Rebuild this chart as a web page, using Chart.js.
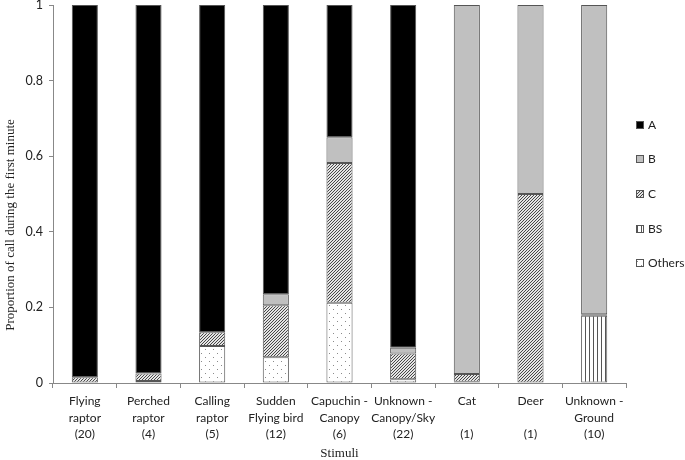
<!DOCTYPE html>
<html>
<head>
<meta charset="utf-8">
<script src="https://cdn.jsdelivr.net/npm/chart.js@4"></script>
<style>
  html, body { margin: 0; padding: 0; background: #fff; }
  #wrap { width: 685px; height: 460px; position: relative; }
</style>
</head>
<body>
<div id="wrap"><canvas id="chart"></canvas></div>
<script>
// ── data --------------------------------------------------------------------
const stimuli = [
  ['Flying', 'raptor', '(20)'],
  ['Perched', 'raptor', '(4)'],
  ['Calling', 'raptor', '(5)'],
  ['Sudden', 'Flying bird', '(12)'],
  ['Capuchin -', 'Canopy', '(6)'],
  ['Unknown -', 'Canopy/Sky', '(22)'],
  ['Cat', '', '(1)'],
  ['Deer', '', '(1)'],
  ['Unknown -', 'Ground', '(10)']
];

// stacked bottom -> top: Others, BS, C, B, A
const othersVals = [null, 0.005, 0.098, 0.068, 0.212, 0.010, 0.003, null, null];
const bsVals     = [null, null, null, null, null, null, null, null, 0.178];
const cVals      = [0.015, 0.020, 0.036, 0.138, 0.370, 0.068, 0.021, 0.500, 0.004];
const bVals      = [null, null, null, 0.029, 0.068, 0.015, 0.976, 0.500, 0.818];
const aVals      = [0.985, 0.975, 0.866, 0.765, 0.350, 0.907, null, null, null];

const yTicks = [0, 0.2, 0.4, 0.6, 0.8, 1];

// ── fill patterns -----------------------------------------------------------
function makePattern(size, bg, paint) {
  const c = document.createElement('canvas');
  c.width = size; c.height = size;
  const g = c.getContext('2d');
  g.fillStyle = bg;
  g.fillRect(0, 0, size, size);
  paint(g, size);
  return g.createPattern(c, 'repeat');
}

// dense "////" hatch, 3px period
const hatchC = makePattern(3, '#e4e4e4', (g) => {
  g.fillStyle = '#474747';
  g.fillRect(0, 2, 1, 1);
  g.fillRect(1, 1, 1, 1);
  g.fillRect(2, 0, 1, 1);
});

const stripesBS = makePattern(4, '#fff', (g, s) => {
  g.fillStyle = '#555';
  g.fillRect(1, 0, 1, s);
});

const dotsOthers = makePattern(8, '#fff', (g) => {
  g.fillStyle = '#8a8a8a';
  g.fillRect(1, 1, 1, 1);
  g.fillRect(5, 5, 1, 1);
});

const FONT = 'Lato, "Open Sans", sans-serif';
const SERIF = '"Liberation Serif", "DejaVu Serif", serif';

// small custom legend + rotated y title, placed like the original
const extras = {
  id: 'extras',
  afterDraw(chart) {
    const ctx = chart.ctx;
    const area = chart.chartArea;
    const sets = chart.data.datasets.slice().reverse();
    const mid = (area.top + area.bottom) / 2;
    const gap = 34.7;
    ctx.save();
    ctx.font = '12px ' + FONT;
    ctx.textBaseline = 'middle';
    ctx.textAlign = 'left';
    sets.forEach((ds, i) => {
      const y = Math.round(mid + (i - 2) * gap);
      ctx.fillStyle = ds.backgroundColor;
      ctx.fillRect(636, y - 4, 7, 7);
      ctx.strokeStyle = '#555';
      ctx.lineWidth = 1;
      ctx.strokeRect(636.5, y - 3.5, 7, 7);
      ctx.fillStyle = '#222';
      ctx.fillText(ds.label, 648, y);
    });

    ctx.translate(11, 225);
    ctx.rotate(-Math.PI / 2);
    ctx.textAlign = 'center';
    ctx.font = '13px ' + SERIF;
    ctx.fillStyle = '#222';
    ctx.fillText('Proportion of call during the first minute', 0, 0);
    ctx.restore();
  }
};

function drawChart() {
  const ctx = document.getElementById('chart').getContext('2d');

  const common = {
    borderColor: '#555',
    borderWidth: 1,
    borderSkipped: false,
    barPercentage: 0.41,
    categoryPercentage: 1
  };

  new Chart(ctx, {
    type: 'bar',
    data: {
      labels: stimuli,
      datasets: [
        { label: 'Others', data: othersVals, backgroundColor: dotsOthers, ...common },
        { label: 'BS',     data: bsVals,     backgroundColor: stripesBS,  ...common },
        { label: 'C',      data: cVals,      backgroundColor: hatchC,     ...common },
        { label: 'B',      data: bVals,      backgroundColor: '#c0c0c0',  ...common },
        { label: 'A',      data: aVals,      backgroundColor: '#000000',  ...common }
      ]
    },
    options: {
      responsive: true,
      maintainAspectRatio: false,
      animation: false,
      layout: { padding: { top: 5, right: 59, left: 0, bottom: 0 } },
      plugins: {
        legend:  { display: false },
        tooltip: { enabled: false }
      },
      scales: {
        x: {
          stacked: true,
          grid:   { drawOnChartArea: false, drawTicks: true, tickLength: 5, color: '#888', offset: true },
          border: { color: '#888' },
          ticks:  { color: '#222', maxRotation: 0, autoSkip: false, padding: 5,
                    font: { family: FONT, size: 12, lineHeight: 1.38 } },
          title:  { display: true, text: 'Stimuli', color: '#222',
                    font: { family: SERIF, size: 13, lineHeight: 1 }, padding: { top: 0, bottom: 0 } },
          afterFit: (s) => { s.height = 77; }
        },
        y: {
          stacked: true,
          min: 0,
          max: 1,
          afterBuildTicks: (s) => { s.ticks = yTicks.map(v => ({ value: v })); },
          grid:   { drawOnChartArea: false, drawTicks: true, tickLength: 4, color: '#888' },
          border: { color: '#888' },
          ticks:  { color: '#222', padding: 6, font: { family: FONT, size: 12.5 },
                    callback: (v) => String(Math.round(v * 10) / 10) },
          afterFit: (s) => { s.width = 53; s.paddingTop = 0; s.paddingBottom = 0; }
        }
      }
    },
    plugins: [extras]
  });
}

window.addEventListener('DOMContentLoaded', () => {
  drawChart();
});
</script>
</body>
</html>
